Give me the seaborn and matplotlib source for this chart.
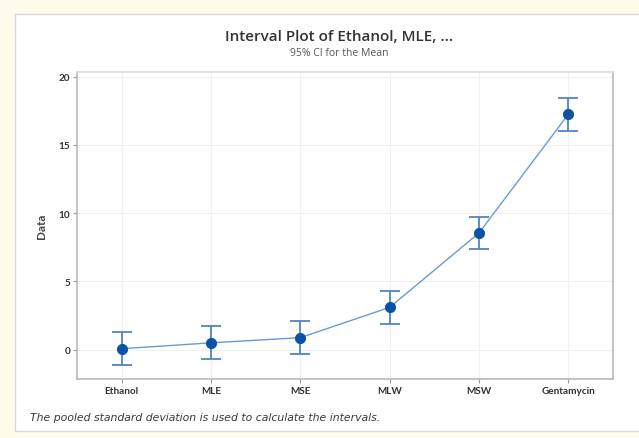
import matplotlib
matplotlib.use("Agg")
import matplotlib.pyplot as plt
from matplotlib.patches import Rectangle
import seaborn as sns
import pandas as pd

# Group means and 95% CI half-widths (pooled standard deviation)
groups = ["Ethanol", "MLE", "MSE", "MLW", "MSW", "Gentamycin"]
means = [0.07, 0.5, 0.88, 3.1, 8.55, 17.25]
ci_half = [1.2, 1.2, 1.2, 1.2, 1.2, 1.2]
y_ticks = [0, 5, 10, 15, 20]

df = pd.DataFrame({"Group": groups, "Mean": means, "CI": ci_half})

sns.set_theme(style="white")
plt.rcParams["font.family"] = ["Open Sans", "DejaVu Sans"]

fig = plt.figure(figsize=(6.39, 4.39), dpi=100)
fig.patch.set_facecolor("#fffcec")

# white panel behind the chart
panel = Rectangle((15 / 639, 1 - 432 / 439), 1.0, (432 - 15) / 439,
                  transform=fig.transFigure, facecolor="white",
                  edgecolor="#d8d8d8", linewidth=1.0, zorder=-10)
fig.patches.append(panel)

ax = fig.add_axes([77 / 639, 1 - 380 / 439, (613 - 77) / 639, (380 - 73) / 439])
ax.set_zorder(5)
ax.set_facecolor("white")

line_col = "#6a9ad6"
dot_col = "#0a52a6"
bar_col = "#4f84c4"

ax.errorbar(range(len(groups)), df["Mean"], yerr=df["CI"], fmt="none",
            ecolor=bar_col, elinewidth=1.3, capsize=7, capthick=1.3, zorder=2)
sns.lineplot(data=df, x="Group", y="Mean", sort=False, ax=ax, color=line_col,
             linewidth=1.0, zorder=3)
sns.scatterplot(data=df, x="Group", y="Mean", ax=ax, color=dot_col, s=55,
                edgecolor=dot_col, zorder=4)

ax.set_xlim(-0.5, len(groups) - 0.5)
ax.set_ylim(-2.15, 20.35)
ax.set_yticks(y_ticks)
ax.set_xticks(range(len(groups)))
ax.set_xticklabels(groups)

ax.grid(True, color="#f0f0f0", linewidth=0.8)
ax.set_axisbelow(True)
for s in ax.spines.values():
    s.set_color("#b8b8b8")
    s.set_linewidth(1.2)
ax.spines["top"].set_color("#dcdcdc")

ax.tick_params(axis="both", which="both", direction="out", length=3, width=0.8,
               color="#999999", labelsize=7.2, labelcolor="#333333", pad=2,
               left=True, bottom=True)
for lab in ax.get_xticklabels() + ax.get_yticklabels():
    lab.set_fontweight("bold")
    lab.set_family(["Lato", "DejaVu Sans"])

ax.set_xlabel("")
ax.set_ylabel("Data", fontsize=8.5, color="#444444", labelpad=8,
              fontweight="bold", family=["Lato", "DejaVu Sans"])

fig.text(0.5 + 20 / 639, 1 - 37 / 439, "Interval Plot of Ethanol, MLE, ...",
         ha="center", va="center", fontsize=11, color="#333333", fontweight="semibold")
fig.text(0.5 + 20 / 639, 1 - 53 / 439, "95% CI for the Mean",
         ha="center", va="center", fontsize=7.5, color="#555555")
fig.text(30 / 639, 1 - 418 / 439,
         "The pooled standard deviation is used to calculate the intervals.",
         ha="left", va="center", fontsize=7.8, style="italic", color="#3a3a3a",
         family=["DejaVu Sans"])

fig.savefig("out.png", dpi=100)
